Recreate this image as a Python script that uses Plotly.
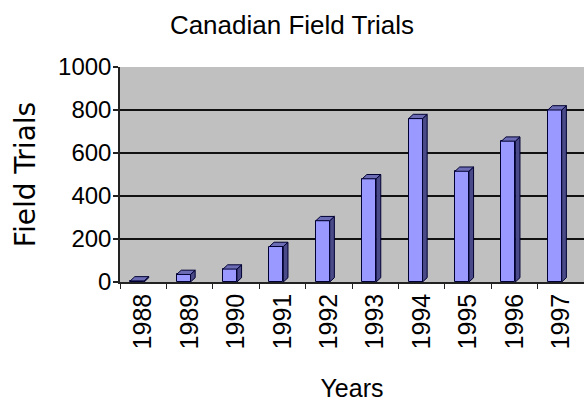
import plotly.graph_objects as go

years = ["1988", "1989", "1990", "1991", "1992", "1993", "1994", "1995", "1996", "1997"]
trials = [5, 35, 60, 165, 285, 480, 760, 515, 655, 800]
y_ticks = [0, 200, 400, 600, 800, 1000]
grid_ticks = [200, 400, 600, 800]

idx = list(range(len(years)))

# 3D bar geometry (in category / data units)
BAR_W = 0.30
BAR_OFF = -0.28
DEPTH_X = 0.10
DEPTH_Y = 20

FRONT = "#9999ff"
SIDE = "#4a4a88"
TOP = "#6c6cb4"
EDGE = "#000033"

fig = go.Figure()

# invisible trace keeping the base (grid) subplot alive
fig.add_trace(go.Scatter(x=idx, y=trials, mode="markers", marker=dict(opacity=0),
                         hoverinfo="skip", showlegend=False, xaxis="x", yaxis="y"))

fig.add_trace(go.Bar(x=idx, y=trials, width=BAR_W, offset=BAR_OFF,
                     marker=dict(color=FRONT, line=dict(color=EDGE, width=1)),
                     showlegend=False, xaxis="x", yaxis="y2"))

for i, v in zip(idx, trials):
    xl = i + BAR_OFF
    xr = i + BAR_OFF + BAR_W
    # side face
    fig.add_trace(go.Scatter(
        x=[xr, xr + DEPTH_X, xr + DEPTH_X, xr, xr],
        y=[0, DEPTH_Y, v + DEPTH_Y, v, 0],
        mode="lines", fill="toself", fillcolor=SIDE,
        line=dict(color=EDGE, width=1), hoverinfo="skip", showlegend=False,
        xaxis="x", yaxis="y2"))
    # top face
    fig.add_trace(go.Scatter(
        x=[xl, xl + DEPTH_X, xr + DEPTH_X, xr, xl],
        y=[v, v + DEPTH_Y, v + DEPTH_Y, v, v],
        mode="lines", fill="toself", fillcolor=TOP,
        line=dict(color=EDGE, width=1), hoverinfo="skip", showlegend=False,
        xaxis="x", yaxis="y2"))

FONT = "Liberation Sans, Arial, sans-serif"

fig.update_layout(
    width=584, height=403,
    margin=dict(l=120, r=0, t=67, b=121, autoexpand=False),
    paper_bgcolor="white",
    plot_bgcolor="#c0c0c0",
    font=dict(family=FONT, color="black"),
    title=dict(text="Canadian Field Trials", x=0.5, xanchor="center",
               y=1 - 25 / 403, yanchor="middle",
               font=dict(family=FONT, size=26, color="black"),
               automargin=False),
    bargap=0,
    xaxis=dict(
        range=[-0.5, 9.5], automargin=False,
        tickmode="array", tickvals=idx, ticktext=years,
        tickangle=-90, ticks="", showgrid=False, zeroline=False,
        showline=True, linecolor="#222222", linewidth=1.5,
        tickfont=dict(family=FONT, size=25, color="black"),
        minor=dict(tickmode="linear", tick0=-0.5, dtick=1, ticks="outside",
                   ticklen=5, tickcolor="#222222", tickwidth=1, showgrid=False),
        title=dict(text="Years", font=dict(family=FONT, size=25, color="black"),
                   standoff=31),
        fixedrange=True,
    ),
    yaxis=dict(
        range=[0, 1000], automargin=False, tickmode="array", tickvals=grid_ticks,
        showticklabels=False, ticks="", showgrid=True,
        gridcolor="#111111", gridwidth=1.8, zeroline=False, showline=False,
        fixedrange=True,
    ),
    yaxis2=dict(
        overlaying="y", side="left", anchor="x", automargin=False,
        range=[0, 1000], tickmode="array", tickvals=y_ticks,
        ticks="outside", ticklen=5, tickcolor="#222222", tickwidth=1.5,
        ticklabelstandoff=-3,
        showline=True, linecolor="#222222", linewidth=1.5,
        showgrid=False, zeroline=False,
        tickfont=dict(family=FONT, size=24, color="black"),
        title=dict(text="Field Trials",
                   font=dict(family="DejaVu Sans, sans-serif", size=28, color="black"),
                   standoff=14),
        fixedrange=True,
    ),
)

fig.write_html("out.html", config={"displayModeBar": False},
               post_script="document.body.style.margin='0';document.body.style.overflow='hidden';")
